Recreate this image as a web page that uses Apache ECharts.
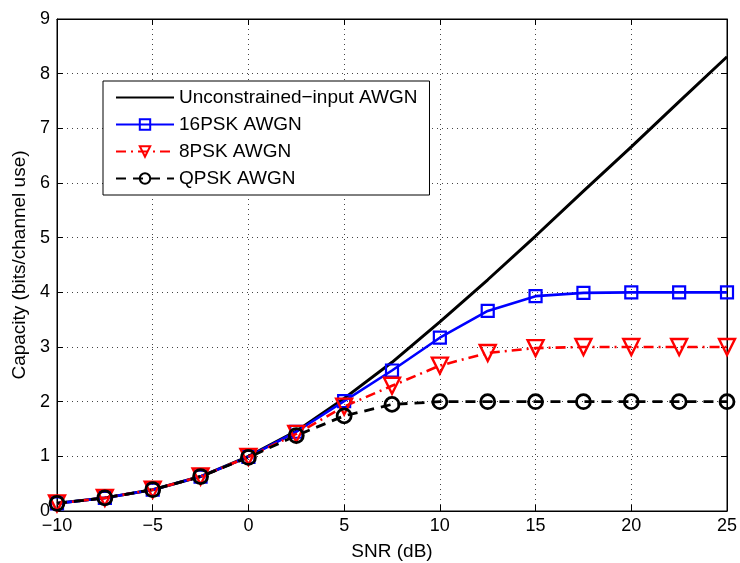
<!DOCTYPE html>
<html>
<head>
<meta charset="utf-8">
<script src="https://cdn.jsdelivr.net/npm/echarts@6/dist/echarts.min.js"></script>
<style>
  html, body { margin: 0; padding: 0; background: #fff; }
  #chart { width: 740px; height: 563px; }
</style>
</head>
<body>
<div id="chart"></div>
<script>
// SNR sample points (dB)
const snr = [-10, -7.5, -5, -2.5, 0, 2.5, 5, 7.5, 10, 12.5, 15, 17.5, 20, 22.5, 25];

// Capacity in bits/channel use
const capUnconstrained = [0.14, 0.24, 0.39, 0.63, 1.0, 1.46, 2.06, 2.72, 3.46, 4.23, 5.03, 5.85, 6.66, 7.49, 8.31];
const cap16PSK = [0.14, 0.24, 0.39, 0.63, 0.99, 1.45, 2.01, 2.57, 3.17, 3.66, 3.93, 3.99, 4.0, 4.0, 4.0];
const cap8PSK  = [0.14, 0.24, 0.39, 0.63, 0.99, 1.41, 1.91, 2.29, 2.66, 2.89, 2.98, 3.0, 3.0, 3.0, 3.0];
const capQPSK  = [0.14, 0.24, 0.39, 0.63, 0.98, 1.38, 1.74, 1.95, 2.0, 2.0, 2.0, 2.0, 2.0, 2.0, 2.0];

const seriesNames = ['Unconstrained\u2212input AWGN', '16PSK AWGN', '8PSK AWGN', 'QPSK AWGN'];

const pairs = ys => snr.map((x, i) => [x, ys[i]]);
const minus = v => String(v).replace('-', '\u2212');
const font = 'Liberation Sans, Arial, Helvetica, sans-serif';

const tickStyle = { inside: true, length: 6, lineStyle: { color: '#000' } };
const dotted = { show: true, lineStyle: { color: '#444', type: [1, 4], width: 1 } };

const chart = echarts.init(document.getElementById('chart'));
chart.setOption({
  animation: false,
  backgroundColor: '#fff',
  textStyle: { fontFamily: font },
  grid: {
    left: 57, right: 13, top: 19, bottom: 52,
    outerBoundsMode: 'none', containLabel: false,
    show: true, borderColor: '#000', borderWidth: 1
  },
  legend: {
    orient: 'vertical',
    left: 103, top: 81,
    padding: [7, 12, 7, 12],
    itemWidth: 58, itemHeight: 13, itemGap: 8,
    backgroundColor: '#fff',
    borderColor: '#000', borderWidth: 1,
    textStyle: { fontFamily: font, fontSize: 19, color: '#000' },
    data: [
      { name: seriesNames[0], itemStyle: { opacity: 0 } },
      seriesNames[1], seriesNames[2], seriesNames[3]
    ]
  },
  xAxis: [{
    type: 'value', min: -10, max: 25, interval: 5,
    name: 'SNR (dB)', nameLocation: 'middle', nameGap: 31,
    nameTextStyle: { fontSize: 19, color: '#000', fontFamily: font },
    axisLine: { onZero: false, lineStyle: { color: '#000', width: 1 } },
    axisTick: tickStyle,
    axisLabel: { fontSize: 18, color: '#000', margin: 6, formatter: minus },
    splitLine: dotted
  }, {
    type: 'value', min: -10, max: 25, interval: 5, position: 'top',
    axisLine: { onZero: false, lineStyle: { color: '#000' } },
    axisTick: tickStyle, axisLabel: { show: false }, splitLine: { show: false }
  }],
  yAxis: [{
    type: 'value', min: 0, max: 9, interval: 1,
    name: 'Capacity (bits/channel use)', nameLocation: 'middle', nameGap: 27,
    nameTextStyle: { fontSize: 19, color: '#000', fontFamily: font },
    axisLine: { onZero: false, lineStyle: { color: '#000', width: 1 } },
    axisTick: tickStyle,
    axisLabel: { fontSize: 18, color: '#000', margin: 7 },
    splitLine: dotted
  }, {
    type: 'value', min: 0, max: 9, interval: 1, position: 'right',
    axisLine: { onZero: false, lineStyle: { color: '#000' } },
    axisTick: tickStyle, axisLabel: { show: false }, splitLine: { show: false }
  }],
  series: [
    {
      name: seriesNames[0], type: 'line', data: pairs(capUnconstrained),
      showSymbol: false,
      lineStyle: { color: '#000', width: 3 },
      itemStyle: { color: '#000' }
    },
    {
      name: seriesNames[1], type: 'line', data: pairs(cap16PSK),
      symbol: 'rect', symbolSize: 12,
      lineStyle: { color: '#0000ff', width: 2.6 },
      itemStyle: { color: 'rgba(0,0,0,0)', borderColor: '#0000ff', borderWidth: 2.2 }
    },
    {
      name: seriesNames[2], type: 'line', data: pairs(cap8PSK),
      symbol: 'triangle', symbolRotate: 180, symbolSize: 16,
      lineStyle: { color: '#ff0000', width: 2.6, type: [10, 5, 2, 5] },
      itemStyle: { color: 'rgba(0,0,0,0)', borderColor: '#ff0000', borderWidth: 2.4 }
    },
    {
      name: seriesNames[3], type: 'line', data: pairs(capQPSK),
      symbol: 'circle', symbolSize: 14,
      lineStyle: { color: '#000', width: 2.8, type: [10, 7] },
      itemStyle: { color: 'rgba(0,0,0,0)', borderColor: '#000', borderWidth: 2.8 }
    }
  ]
});
</script>
</body>
</html>
